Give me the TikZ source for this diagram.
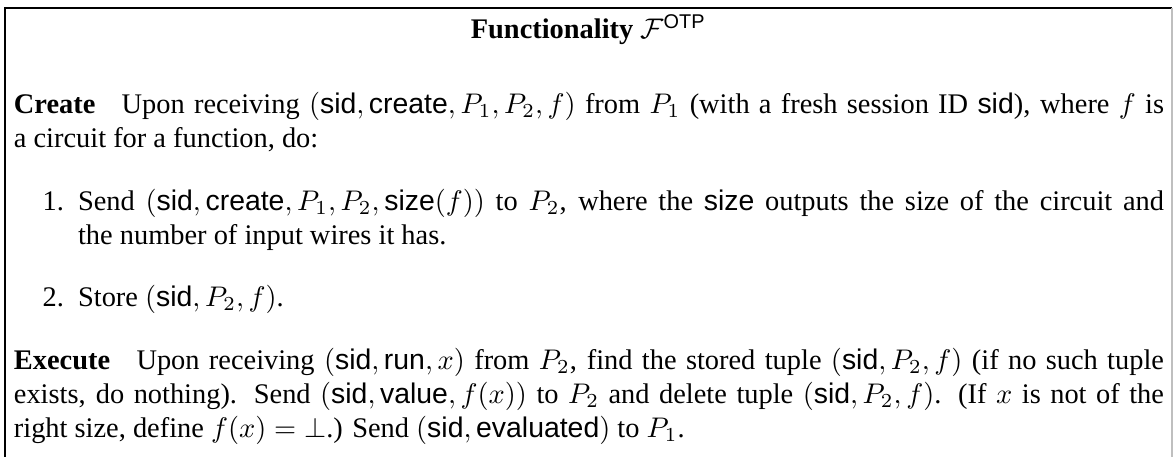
\documentclass[tikz,border=0pt]{standalone}
\usepackage{amsmath}
\usepackage{fontspec}
\setmainfont{Liberation Serif}
\setsansfont{Liberation Sans}
\usetikzlibrary{positioning}

\newcommand{\msf}[1]{\textsf{#1}}

\begin{document}
\begin{tikzpicture}[inner sep=0pt,outer sep=0pt,
    body text/.style={anchor=base west,text width=405pt,align=justify,font=\fontsize{10}{12}\selectfont},
    item text/.style={anchor=base west,text width=382.4pt,align=justify,font=\fontsize{10}{12}\selectfont},
    item label/.style={font=\fontsize{10}{12}\selectfont},
    title text/.style={anchor=base,font=\fontsize{10}{12}\selectfont},
    frame line/.style={line width=0.5pt}]

\useasboundingbox (0pt,0pt) rectangle (413.4pt,-160.9pt);

% frame, cut at the bottom
\coordinate (bl) at (1.8pt,-175pt);
\coordinate (tl) at (1.8pt,-2.8pt);
\coordinate (tr) at (412.7pt,-2.8pt);
\coordinate (br) at (412.7pt,-175pt);
\draw[frame line] (bl) -- (tl) -- (tr);
\draw[frame line,black!25] (tr) -- (br);

\node[title text] (title) at (207.2pt,-13.5pt) {\textbf{Functionality} $\mathcal{F}^{\msf{OTP}}$};

\node[body text] (create) at (4.9pt,-40pt) {\textbf{Create}\hspace{0.6em} Upon receiving $(\msf{sid},\msf{create},P_1,P_2,f)$ from $P_1$ (with a fresh session ID \msf{sid}), where $f$ is\linebreak a circuit for a function, do:};

\node[item text] (send) at (27.5pt,-74pt) {Send $(\msf{sid},\msf{create},P_1,P_2,\msf{size}(f))$ to $P_2$, where the \msf{size} outputs the size of the circuit and\linebreak the number of input wires it has.};
\node[item label] (one) [left=5pt of send.base west,anchor=base east] {1.};

\node[item text] (store) at (27.5pt,-108pt) {Store $(\msf{sid},P_2,f)$.};
\node[item label] (two) [left=5pt of store.base west,anchor=base east] {2.};

\node[body text] (execute) at (4.9pt,-130pt) {\textbf{Execute}\hspace{0.6em} Upon receiving $(\msf{sid},\msf{run},x)$ from $P_2$, find the stored tuple $(\msf{sid},P_2,f)$ (if no such tuple\linebreak exists, do nothing). Send $(\msf{sid},\msf{value},f(x))$ to $P_2$ and delete tuple $(\msf{sid},P_2,f)$. (If $x$ is not of the\linebreak right size, define $f(x)=\bot$.) Send $(\msf{sid},\msf{evaluated})$ to $P_1$.};
\end{tikzpicture}
\end{document}
